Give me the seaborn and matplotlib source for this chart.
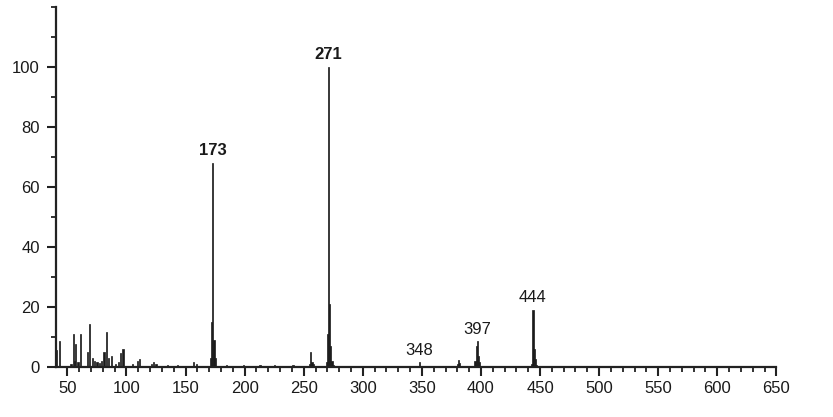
import numpy as np
import matplotlib
matplotlib.use("Agg")
import matplotlib.pyplot as plt
from matplotlib.ticker import MultipleLocator
import seaborn as sns

# m/z and relative intensity (%)
mz = [41, 43, 53, 55, 56, 57, 59, 61, 67, 69, 71, 73, 75, 77, 79, 81, 83, 85, 87,
      91, 93, 95, 97, 105, 109, 111, 121, 123, 125, 135, 143, 157, 159,
      171, 172, 173, 174, 175, 185, 199, 213, 225, 241,
      255, 256, 257, 258, 269, 270, 271, 272, 273, 274, 275,
      348, 380, 381, 382, 395, 396, 397, 398, 399,
      443, 444, 445, 446, 447]
intensity = [5.5, 8.5, 1.0, 11.0, 2.0, 7.5, 1.5, 10.7, 5.0, 14.3, 3.0, 2.0, 1.5, 1.2, 2.0,
             4.8, 11.5, 3.0, 3.5, 1.0, 1.5, 4.5, 6.0, 1.0, 2.0, 2.5, 1.0, 1.5, 1.0, 0.6, 0.6,
             1.5, 0.7,
             3.0, 15.0, 68.0, 9.0, 3.0, 0.6, 0.5, 0.5, 0.5, 0.5,
             1.0, 5.0, 1.5, 0.8, 1.5, 11.0, 100.0, 21.0, 7.0, 2.0, 0.6,
             1.5, 0.8, 2.2, 1.2, 2.0, 7.0, 8.5, 3.5, 1.5,
             0.8, 19.0, 6.0, 2.5, 0.6]

labels = ["173", "271", "348", "397", "444"]
label_mz = [173, 271, 348, 397, 444]
label_y = [68.0, 100.0, 1.5, 8.5, 19.0]
label_bold = [True, True, False, False, False]

sns.set_style("ticks")
plt.rcParams["font.family"] = ["Liberation Sans", "DejaVu Sans"]

fig = plt.figure(figsize=(8.33, 4.17), dpi=100)
ax = fig.add_axes([0.067, 0.121, 0.865, 0.863])

sns.barplot(x=mz, y=intensity, native_scale=True, width=1.0, color="#1a1a1a",
            edgecolor="#1a1a1a", linewidth=0.5, errorbar=None, ax=ax)

for t, xm, yv, b in zip(labels, label_mz, label_y, label_bold):
    ax.text(xm, yv + 1.5, t, ha="center", va="bottom", fontsize=12,
            fontweight="bold" if b else "normal", color="#1a1a1a")

ax.set_xlim(40.2, 650)
ax.set_ylim(0, 120)
ax.xaxis.set_major_locator(MultipleLocator(50))
ax.xaxis.set_minor_locator(MultipleLocator(10))
ax.yaxis.set_major_locator(MultipleLocator(20))
ax.yaxis.set_minor_locator(MultipleLocator(10))
ax.set_yticks([0, 20, 40, 60, 80, 100])
ax.tick_params(axis="both", which="major", length=6.5, width=1.5, color="#222222",
               labelsize=12, labelcolor="#1a1a1a")
ax.tick_params(axis="both", which="minor", length=3.5, width=1.3, color="#222222")
ax.tick_params(axis="x", which="major", pad=4)
ax.tick_params(axis="y", which="major", pad=5)
sns.despine(ax=ax)
for s in ["left", "bottom"]:
    ax.spines[s].set_linewidth(1.6)
    ax.spines[s].set_color("#222222")
ax.set_xlabel("")
ax.set_ylabel("")

fig.savefig("out.png", dpi=100)
